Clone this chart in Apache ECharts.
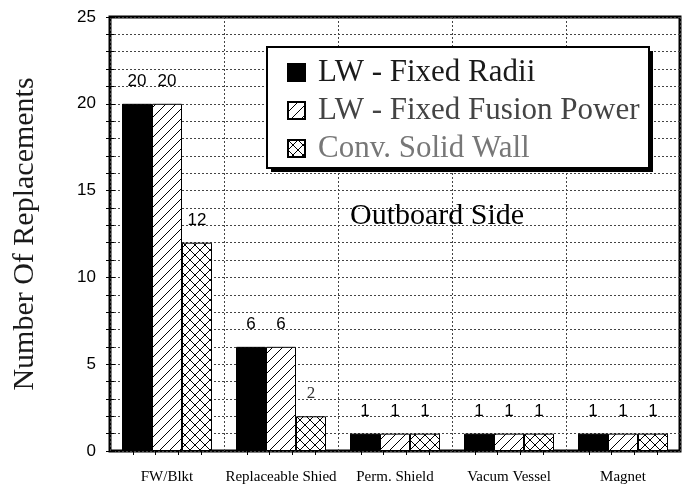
<!DOCTYPE html>
<html>
<head>
<meta charset="utf-8">
<script src="https://cdn.jsdelivr.net/npm/echarts@6/dist/echarts.min.js"></script>
<style>html,body{margin:0;padding:0;background:#fff;}#c{width:688px;height:487px;}</style>
</head>
<body>
<div id="c"></div>
<script>
var categories = ['FW/Blkt', 'Replaceable Shied', 'Perm. Shield', 'Vacum Vessel', 'Magnet'];
var seriesNames = ['LW - Fixed Radii', 'LW - Fixed Fusion Power', 'Conv. Solid Wall'];
var fixedRadii = [20, 6, 1, 1, 1];
var fixedFusionPower = [20, 6, 1, 1, 1];
var convSolidWall = [12, 2, 1, 1, 1];
var yTicks = [0, 5, 10, 15, 20, 25];

function makePattern(kind) {
  var s = 10;
  var c = document.createElement('canvas');
  c.width = s; c.height = s;
  var g = c.getContext('2d');
  g.fillStyle = '#fff';
  g.fillRect(0, 0, s, s);
  g.strokeStyle = '#000';
  g.lineWidth = 1;
  g.beginPath();
  g.moveTo(-1, s + 1); g.lineTo(s + 1, -1);
  g.moveTo(-1, 1); g.lineTo(1, -1);
  g.moveTo(s - 1, s + 1); g.lineTo(s + 1, s - 1);
  if (kind === 'cross') {
    g.moveTo(-1, -1); g.lineTo(s + 1, s + 1);
    g.moveTo(s - 1, -1); g.lineTo(s + 1, 1);
    g.moveTo(-1, s - 1); g.lineTo(1, s + 1);
  }
  g.stroke();
  return { image: c, repeat: 'repeat' };
}

var chart = echarts.init(document.getElementById('c'), null, { renderer: 'canvas' });
var gridLine = { color: '#444', width: 1, type: [2, 2] };
var labelStyle = { show: true, position: 'top', distance: 14, fontFamily: 'Liberation Sans, Arial', fontSize: 17, color: '#000' };

var convData = convSolidWall.map(function (v, i) {
  if (i === 1) return { value: v, label: { fontFamily: 'Liberation Serif', color: '#333' } };
  return v;
});

var option = {
  animation: false,
  backgroundColor: '#fff',
  grid: { left: 110, right: 8, top: 17, bottom: 36, show: true, borderColor: '#000', borderWidth: 3, backgroundColor: 'transparent' },
  legend: {
    orient: 'vertical', left: 267, top: 47, z: 10,
    icon: 'rect',
    itemWidth: 17, itemHeight: 17, itemGap: 7,
    padding: [10, 8, 6, 20],
    textStyle: { fontFamily: 'Liberation Serif, Times New Roman', fontSize: 31, lineHeight: 30, padding: [0, 0, 0, 8] },
    data: [
      { name: seriesNames[0], textStyle: { color: '#1a1a1a' } },
      { name: seriesNames[1], textStyle: { color: '#444' } },
      { name: seriesNames[2], textStyle: { color: '#777' } }
    ]
  },
  graphic: [
    { type: 'rect', z: 5, shape: { x: 271, y: 51, width: 382, height: 121 }, style: { fill: '#000' } },
    { type: 'rect', z: 6, shape: { x: 267, y: 47, width: 382, height: 121 }, style: { fill: '#fff', stroke: '#000', lineWidth: 2 } },
    {
      type: 'text', left: 350, top: 201, z: 6,
      style: { text: 'Outboard Side', fontFamily: 'Liberation Serif, Times New Roman', fontSize: 30, fill: '#000' }
    }
  ],
  xAxis: [
    {
      type: 'category', data: categories, position: 'bottom',
      axisLine: { show: false }, axisTick: { show: false }, splitLine: { show: false },
      axisLabel: { fontFamily: 'Liberation Serif, Times New Roman', fontSize: 15, color: '#000', margin: 19, interval: 0 }
    },
    {
      type: 'value', position: 'top', min: 0, max: categories.length, interval: 1,
      axisLine: { show: false }, axisLabel: { show: false },
      axisTick: { show: false, inside: true },
      minorTick: { show: true, splitNumber: 5, length: 4, lineStyle: { color: '#000', width: 1 } },
      splitLine: { show: true, lineStyle: gridLine }
    },
    {
      type: 'value', position: 'bottom', min: 0, max: categories.length, interval: 1,
      axisLine: { show: false }, axisLabel: { show: false },
      axisTick: { show: false, inside: true },
      minorTick: { show: true, splitNumber: 5, length: 4, lineStyle: { color: '#000', width: 1 } },
      splitLine: { show: false }
    }
  ],
  yAxis: [
    {
      type: 'value', min: yTicks[0], max: yTicks[yTicks.length - 1], interval: 5, position: 'left',
      axisLine: { show: false },
      axisTick: { show: true, inside: true, length: 5, lineStyle: { color: '#000' } },
      minorTick: { show: true, splitNumber: 5, length: 4, lineStyle: { color: '#000' } },
      axisLabel: { fontFamily: 'Liberation Sans, Arial', fontSize: 17, color: '#000', margin: 14 },
      splitLine: { show: true, lineStyle: gridLine },
      minorSplitLine: { show: true, lineStyle: gridLine },
      name: 'Number Of Replacements', nameLocation: 'middle', nameGap: 70,
      nameTextStyle: { fontFamily: 'Liberation Serif, Times New Roman', fontSize: 30, color: '#1a1a1a' }
    },
    {
      type: 'value', min: yTicks[0], max: yTicks[yTicks.length - 1], interval: 5, position: 'right',
      axisLine: { show: false },
      axisTick: { show: true, inside: true, length: 4, lineStyle: { color: '#000' } },
      minorTick: { show: true, splitNumber: 5, length: 4, lineStyle: { color: '#000' } },
      axisLabel: { show: false }, splitLine: { show: false }
    }
  ],
  series: [
    {
      name: seriesNames[0], type: 'bar', xAxisIndex: 0, yAxisIndex: 0, data: fixedRadii,
      barWidth: 30, barGap: '0%',
      itemStyle: { color: '#000', borderColor: '#000', borderWidth: 1 },
      label: labelStyle
    },
    {
      name: seriesNames[1], type: 'bar', xAxisIndex: 0, yAxisIndex: 0, data: fixedFusionPower,
      barWidth: 30, barGap: '0%',
      itemStyle: { color: makePattern('diag'), borderColor: '#000', borderWidth: 1 },
      label: labelStyle
    },
    {
      name: seriesNames[2], type: 'bar', xAxisIndex: 0, yAxisIndex: 0, data: convData,
      barWidth: 30, barGap: '0%',
      itemStyle: { color: makePattern('cross'), borderColor: '#000', borderWidth: 1 },
      label: labelStyle
    }
  ]
};
chart.setOption(option);
</script>
</body>
</html>
